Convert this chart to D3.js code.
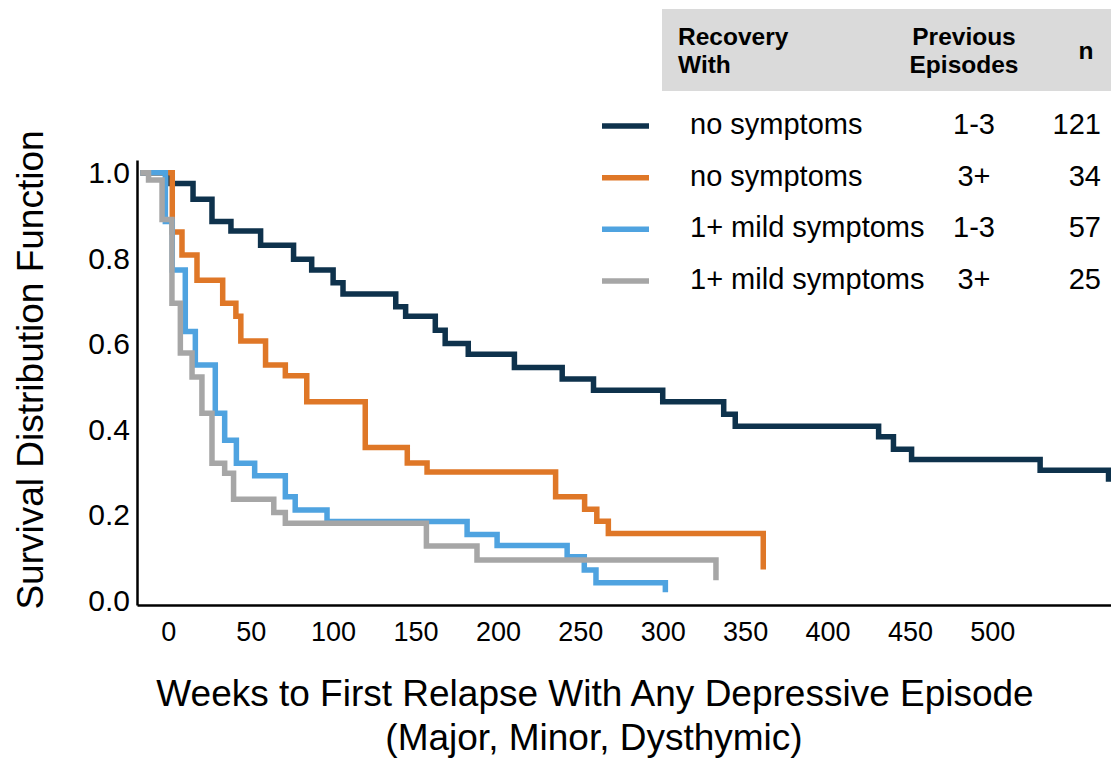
<!DOCTYPE html>
<html>
<head>
<meta charset="utf-8">
<script src="https://cdn.jsdelivr.net/npm/d3@7"></script>
<style>
  html, body { margin: 0; padding: 0; background: #fff; }
  svg { display: block; font-family: 'Liberation Sans', Arial, sans-serif; }
</style>
</head>
<body>
<div id="chart"></div>
<script>
// Kaplan-Meier style survival curves, [weeks, survival]
var noSympFew = [
  [-17, 1.0], [1.6, 0.975], [15, 0.938], [26.5, 0.886], [38, 0.864],
  [56, 0.831], [76, 0.798], [87, 0.773], [100, 0.743], [106, 0.717],
  [138, 0.687], [144, 0.665], [162, 0.632], [168, 0.601], [182, 0.576],
  [210, 0.545], [239, 0.518], [258, 0.492], [300, 0.465], [337, 0.436],
  [344, 0.408], [431, 0.383], [440, 0.354], [451, 0.330], [529, 0.305],
  [570.5, 0.278]
];
var noSympMany = [
  [-17, 1.0], [2.4, 0.862], [8.3, 0.808], [17.4, 0.749], [33, 0.695],
  [41, 0.665], [44, 0.607], [59, 0.551], [71, 0.526], [84, 0.465],
  [119.5, 0.358], [145, 0.322], [157, 0.301], [235, 0.243], [252.6, 0.214],
  [260, 0.186], [267, 0.157], [361, 0.073]
];
var mildFew = [
  [-17, 1.0], [-1.8, 0.886], [2.4, 0.773], [10.3, 0.629], [16.4, 0.551],
  [28.5, 0.438], [34.2, 0.375], [41.3, 0.321], [52.4, 0.292], [71, 0.243],
  [77, 0.212], [96.3, 0.185], [181.3, 0.155], [199.5, 0.129], [242, 0.103],
  [252.4, 0.072], [259.5, 0.042], [301.6, 0.020]
];
var mildMany = [
  [-17, 1.0], [-12, 0.983], [-3.8, 0.891], [2.2, 0.695], [7.3, 0.579],
  [14.4, 0.523], [20.4, 0.438], [26.5, 0.321], [34.2, 0.298], [39.6, 0.237],
  [64, 0.206], [71, 0.181], [156.6, 0.128], [187.3, 0.095], [332.3, 0.048]
];

// Legend table
var legendRecovery = ['no symptoms', 'no symptoms', '1+ mild symptoms', '1+ mild symptoms'];
var legendEpisodes = ['1-3', '3+', '1-3', '3+'];
var legendN = ['121', '34', '57', '25'];
var seriesColors = ['#0e324c', '#df7727', '#4fa3e0', '#a6a6a6'];

var xTicks = [0, 50, 100, 150, 200, 250, 300, 350, 400, 450, 500];
var yTicks = [0, 0.2, 0.4, 0.6, 0.8, 1.0];

var width = 1111, height = 758;
var fontFamily = "'Liberation Sans', Arial, sans-serif";

var svg = d3.select('#chart')
  .append('svg')
  .attr('width', width)
  .attr('height', height);

var x = d3.scaleLinear().domain([-19, 572]).range([137, 1111]);
var y = d3.scaleLinear().domain([-0.01, 1.03]).range([605, 160]);

// Axes: plain black lines, no tick marks
var xAxis = svg.append('g')
  .attr('transform', 'translate(0,605)')
  .call(d3.axisBottom(x).tickValues(xTicks).tickSize(0).tickPadding(17)
    .tickFormat(d3.format('d')));
xAxis.select('.domain').attr('stroke', '#000').attr('stroke-width', 2.5);
xAxis.selectAll('text').attr('font-size', 27).attr('fill', '#000')
  .attr('font-family', fontFamily);

var yAxis = svg.append('g')
  .attr('transform', 'translate(137,0)')
  .call(d3.axisLeft(y).tickValues(yTicks).tickSize(0).tickPadding(7)
    .tickFormat(d3.format('.1f')));
yAxis.select('.domain').attr('stroke', '#000').attr('stroke-width', 2.5);
yAxis.selectAll('text').attr('font-size', 30).attr('fill', '#000')
  .attr('font-family', fontFamily);

// Axis titles
svg.append('text')
  .attr('transform', 'translate(43,370) rotate(-90)')
  .attr('text-anchor', 'middle')
  .attr('font-size', 37)
  .text('Survival Distribution Function');

svg.append('text')
  .attr('x', 595).attr('y', 706)
  .attr('text-anchor', 'middle')
  .attr('font-size', 37)
  .text('Weeks to First Relapse With Any Depressive Episode');

svg.append('text')
  .attr('x', 594).attr('y', 750)
  .attr('text-anchor', 'middle')
  .attr('font-size', 37)
  .text('(Major, Minor, Dysthymic)');

// Survival curves
var line = d3.line()
  .x(function (d) { return x(d[0]); })
  .y(function (d) { return y(d[1]); })
  .curve(d3.curveStepAfter);

svg.append('g')
  .selectAll('path')
  .data([noSympFew, noSympMany, mildFew, mildMany])
  .enter()
  .append('path')
  .attr('d', line)
  .attr('fill', 'none')
  .attr('stroke', function (d, i) { return seriesColors[i]; })
  .attr('stroke-width', 5.5);

// Legend header
var legend = svg.append('g').attr('class', 'legend');

legend.append('rect')
  .attr('x', 662).attr('y', 9)
  .attr('width', 449).attr('height', 82)
  .attr('fill', '#dadada');

var header = legend.append('g')
  .attr('font-weight', 'bold')
  .attr('font-size', 24.5);
header.append('text').attr('x', 678).attr('y', 44.5).text('Recovery');
header.append('text').attr('x', 678).attr('y', 72.5).text('With');
header.append('text').attr('x', 964).attr('y', 44.5)
  .attr('text-anchor', 'middle').text('Previous');
header.append('text').attr('x', 964).attr('y', 72.5)
  .attr('text-anchor', 'middle').text('Episodes');
header.append('text').attr('x', 1086).attr('y', 59)
  .attr('text-anchor', 'middle').text('n');

// Legend rows
var rowY = d3.scalePoint().domain(d3.range(legendN.length)).range([126, 281]);

var rows = legend.selectAll('g.row')
  .data(legendN)
  .enter()
  .append('g')
  .attr('class', 'row')
  .attr('transform', function (d, i) { return 'translate(0,' + rowY(i) + ')'; });

rows.append('line')
  .attr('x1', 602).attr('x2', 649)
  .attr('stroke', function (d, i) { return seriesColors[i]; })
  .attr('stroke-width', 5.5);

rows.append('text')
  .attr('x', 690).attr('y', 8)
  .attr('font-size', 29)
  .text(function (d, i) { return legendRecovery[i]; });

rows.append('text')
  .attr('x', 974).attr('y', 8)
  .attr('text-anchor', 'middle')
  .attr('font-size', 29)
  .text(function (d, i) { return legendEpisodes[i]; });

rows.append('text')
  .attr('x', 1101).attr('y', 8)
  .attr('text-anchor', 'end')
  .attr('font-size', 29)
  .text(function (d) { return d; });
</script>
</body>
</html>
